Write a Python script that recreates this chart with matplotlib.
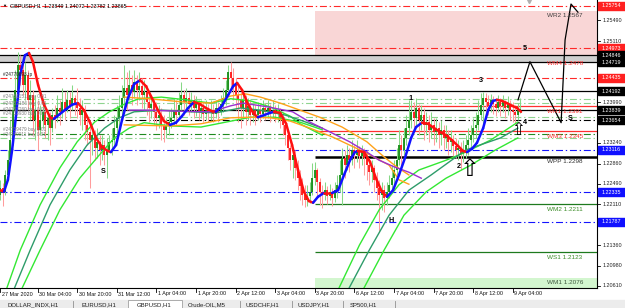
import numpy as np
import matplotlib.pyplot as plt
from matplotlib.collections import LineCollection
from matplotlib.patches import Rectangle
import matplotlib.transforms as mtransforms

plt.rcParams['font.family'] = ['Liberation Sans', 'DejaVu Sans']
plt.rcParams['lines.scale_dashes'] = False

# ---------------- data (GBPUSD H1) ----------------
first_open = 1.2228
close = [1.2241, 1.2234, 1.2265, 1.2292, 1.2329, 1.2384, 1.2421, 1.2467, 1.2458, 1.2430,
         1.2449, 1.2403, 1.2412, 1.2366, 1.2384, 1.2348, 1.2366, 1.2381, 1.2357, 1.2370,
         1.2351, 1.2375, 1.2370, 1.2388, 1.2381, 1.2399, 1.2384, 1.2403, 1.2392, 1.2406,
         1.2395, 1.2388, 1.2375, 1.2384, 1.2357, 1.2344, 1.2329, 1.2338, 1.2315, 1.2326,
         1.2311, 1.2320, 1.2302, 1.2311, 1.2326, 1.2329, 1.2351, 1.2370, 1.2388, 1.2406,
         1.2425, 1.2412, 1.2430, 1.2417, 1.2436, 1.2421, 1.2428, 1.2412, 1.2417, 1.2399,
         1.2388, 1.2395, 1.2381, 1.2370, 1.2375, 1.2357, 1.2348, 1.2355, 1.2362, 1.2370,
         1.2384, 1.2375, 1.2394, 1.2412, 1.2399, 1.2406, 1.2395, 1.2403, 1.2388, 1.2395,
         1.2381, 1.2388, 1.2377, 1.2384, 1.2381, 1.2384, 1.2377, 1.2388, 1.2381, 1.2395,
         1.2406, 1.2421, 1.2454, 1.2443, 1.2430, 1.2412, 1.2403, 1.2388, 1.2403, 1.2381,
         1.2392, 1.2375, 1.2384, 1.2375, 1.2384, 1.2377, 1.2388, 1.2381, 1.2388, 1.2381,
         1.2384, 1.2377, 1.2381, 1.2370, 1.2357, 1.2338, 1.2315, 1.2292, 1.2302, 1.2278,
         1.2259, 1.2245, 1.2228, 1.2219, 1.2226, 1.2234, 1.2259, 1.2274, 1.2252, 1.2234,
         1.2228, 1.2237, 1.2226, 1.2234, 1.2223, 1.2237, 1.2247, 1.2265, 1.2296, 1.2283,
         1.2302, 1.2292, 1.2311, 1.2302, 1.2311, 1.2300, 1.2307, 1.2296, 1.2283, 1.2270,
         1.2278, 1.2256, 1.2241, 1.2228, 1.2237, 1.2223, 1.2234, 1.2247, 1.2259, 1.2274,
         1.2292, 1.2320, 1.2311, 1.2333, 1.2351, 1.2366, 1.2381, 1.2370, 1.2388, 1.2366,
         1.2375, 1.2357, 1.2362, 1.2348, 1.2357, 1.2344, 1.2351, 1.2338, 1.2348, 1.2333,
         1.2338, 1.2326, 1.2329, 1.2318, 1.2311, 1.2315, 1.2304, 1.2311, 1.2320, 1.2329,
         1.2338, 1.2351, 1.2357, 1.2375, 1.2394, 1.2406, 1.2399, 1.2392, 1.2403, 1.2395,
         1.2388, 1.2399, 1.2392, 1.2399, 1.2388, 1.2395, 1.2384, 1.2381, 1.2375, 1.23849,
         1.23865]
high = [1.2256, 1.2250, 1.2274, 1.2311, 1.2366, 1.2412, 1.2458, 1.2491, 1.2485, 1.2476,
        1.2473, 1.2458, 1.2439, 1.2421, 1.2412, 1.2403, 1.2394, 1.2403, 1.2388, 1.2384,
        1.2381, 1.2388, 1.2394, 1.2412, 1.2403, 1.2425, 1.2417, 1.2421, 1.2417, 1.2430,
        1.2412, 1.2425, 1.2406, 1.2403, 1.2394, 1.2375, 1.2366, 1.2357, 1.2348, 1.2351,
        1.2338, 1.2338, 1.2329, 1.2333, 1.2338, 1.2351, 1.2375, 1.2394, 1.2412, 1.2430,
        1.2467, 1.2454, 1.2458, 1.2449, 1.2458, 1.2449, 1.2454, 1.2443, 1.2439, 1.2430,
        1.2417, 1.2412, 1.2406, 1.2399, 1.2394, 1.2388, 1.2375, 1.2370, 1.2384, 1.2388,
        1.2406, 1.2403, 1.2417, 1.2436, 1.2421, 1.2425, 1.2417, 1.2417, 1.2412, 1.2410,
        1.2403, 1.2403, 1.2399, 1.2403, 1.2395, 1.2403, 1.2395, 1.2403, 1.2399, 1.2412,
        1.2425, 1.2439, 1.2467, 1.2473, 1.2461, 1.2443, 1.2430, 1.2417, 1.2421, 1.2412,
        1.2406, 1.2403, 1.2399, 1.2394, 1.2399, 1.2395, 1.2403, 1.2397, 1.2403, 1.2395,
        1.2403, 1.2394, 1.2395, 1.2388, 1.2381, 1.2366, 1.2344, 1.2320, 1.2315, 1.2311,
        1.2292, 1.2274, 1.2259, 1.2247, 1.2247, 1.2252, 1.2287, 1.2289, 1.2278, 1.2259,
        1.2247, 1.2252, 1.2245, 1.2248, 1.2241, 1.2252, 1.2265, 1.2292, 1.2315, 1.2311,
        1.2320, 1.2315, 1.2329, 1.2320, 1.2329, 1.2318, 1.2320, 1.2315, 1.2311, 1.2296,
        1.2292, 1.2283, 1.2270, 1.2256, 1.2252, 1.2247, 1.2252, 1.2265, 1.2283, 1.2292,
        1.2315, 1.2348, 1.2338, 1.2351, 1.2375, 1.2403, 1.2403, 1.2399, 1.2406, 1.2395,
        1.2394, 1.2388, 1.2381, 1.2375, 1.2381, 1.2370, 1.2370, 1.2362, 1.2366, 1.2357,
        1.2357, 1.2348, 1.2348, 1.2338, 1.2333, 1.2329, 1.2326, 1.2329, 1.2338, 1.2351,
        1.2357, 1.2370, 1.2381, 1.2403, 1.2416, 1.2417, 1.2416, 1.2412, 1.2414, 1.2410,
        1.2406, 1.2412, 1.2406, 1.2412, 1.2403, 1.2410, 1.2403, 1.2399, 1.2394, 1.2397,
        1.24072]
low = [1.2219, 1.2208, 1.2228, 1.2256, 1.2283, 1.2320, 1.2375, 1.2412, 1.2430, 1.2412,
       1.2403, 1.2384, 1.2366, 1.2338, 1.2329, 1.2311, 1.2338, 1.2351, 1.2333, 1.2329,
       1.2320, 1.2344, 1.2351, 1.2362, 1.2357, 1.2370, 1.2366, 1.2381, 1.2370, 1.2384,
       1.2375, 1.2370, 1.2357, 1.2348, 1.2329, 1.2320, 1.2241, 1.2302, 1.2292, 1.2296,
       1.2283, 1.2292, 1.2283, 1.2259, 1.2307, 1.2302, 1.2315, 1.2338, 1.2351, 1.2375,
       1.2388, 1.2384, 1.2403, 1.2394, 1.2406, 1.2394, 1.2403, 1.2388, 1.2384, 1.2375,
       1.2362, 1.2370, 1.2357, 1.2348, 1.2351, 1.2329, 1.2326, 1.2333, 1.2338, 1.2351,
       1.2357, 1.2357, 1.2370, 1.2384, 1.2375, 1.2381, 1.2375, 1.2381, 1.2370, 1.2373,
       1.2366, 1.2370, 1.2362, 1.2366, 1.2362, 1.2366, 1.2362, 1.2370, 1.2362, 1.2375,
       1.2381, 1.2394, 1.2412, 1.2417, 1.2403, 1.2384, 1.2362, 1.2351, 1.2370, 1.2357,
       1.2366, 1.2357, 1.2362, 1.2357, 1.2366, 1.2362, 1.2370, 1.2366, 1.2370, 1.2362,
       1.2370, 1.2362, 1.2362, 1.2351, 1.2338, 1.2320, 1.2292, 1.2274, 1.2259, 1.2256,
       1.2237, 1.2219, 1.2210, 1.2206, 1.2208, 1.2214, 1.2228, 1.2247, 1.2228, 1.2210,
       1.2204, 1.2219, 1.2212, 1.2219, 1.2208, 1.2215, 1.2223, 1.2234, 1.2210, 1.2259,
       1.2274, 1.2270, 1.2283, 1.2278, 1.2289, 1.2278, 1.2283, 1.2265, 1.2256, 1.2247,
       1.2252, 1.2234, 1.2219, 1.2160, 1.2201, 1.2197, 1.2210, 1.2223, 1.2234, 1.2247,
       1.2265, 1.2283, 1.2283, 1.2302, 1.2320, 1.2338, 1.2351, 1.2348, 1.2357, 1.2338,
       1.2348, 1.2329, 1.2338, 1.2326, 1.2333, 1.2320, 1.2326, 1.2315, 1.2320, 1.2311,
       1.2315, 1.2302, 1.2307, 1.2300, 1.2296, 1.2292, 1.2274, 1.2289, 1.2296, 1.2302,
       1.2315, 1.2326, 1.2333, 1.2348, 1.2366, 1.2351, 1.2381, 1.2375, 1.2381, 1.2377,
       1.2373, 1.2381, 1.2373, 1.2381, 1.2370, 1.2375, 1.2366, 1.2362, 1.2359, 1.2366,
       1.23782]

# smoothed trend line (red falling / blue rising)
hma_bar = [0, 1.4, 3, 4.7, 6.3, 7.9, 9.9, 11.5, 13.1, 15.2, 17.6, 20, 21.6, 24, 26.5,
           28.9, 31.3, 33.7, 36.2, 38.6, 41, 43.4, 44.6, 46.7, 49.1, 51.5, 54, 56.4, 58.8,
           61.2, 63.6, 66, 68.5, 70.9, 73.3, 75.8, 78.2, 80.6, 83, 85.5, 87, 89.5, 92, 94,
           95.6, 97.6, 100, 102.4, 104, 106.5, 108.9, 110.5, 113, 115.4, 117.8, 120.2,
           122.6, 124.6, 126.3, 128.3, 130.7, 134, 136.4, 138.8, 141.2, 143.2, 144.4,
           146.9, 149.3, 151.7, 154.1, 156.2, 158.6, 161, 163.4, 165.9, 167.9, 170.3,
           172.7, 175.2, 177.6, 180, 182.4, 184.9, 186.9, 188.5, 190.5, 192.5, 195, 197,
           199, 200.6, 202.6, 204.6, 206.7, 208.7, 210.3]
hma = [1.2237, 1.2234, 1.2256, 1.2311, 1.2375, 1.2449, 1.2485, 1.2489, 1.2473, 1.2430,
       1.2394, 1.2371, 1.2368, 1.2377, 1.2386, 1.2394, 1.2397, 1.2384, 1.2361, 1.2333,
       1.2316, 1.2309, 1.2307, 1.2320, 1.2366, 1.2406, 1.2432, 1.2439, 1.2428, 1.2406,
       1.2384, 1.2364, 1.2357, 1.2361, 1.2373, 1.2388, 1.2399, 1.2395, 1.2388, 1.2382,
       1.2381, 1.2392, 1.2412, 1.2428, 1.2434, 1.2421, 1.2395, 1.2377, 1.2371, 1.2375,
       1.2379, 1.2381, 1.2379, 1.2359, 1.2320, 1.2274, 1.2234, 1.2217, 1.2214, 1.2225,
       1.2232, 1.2232, 1.2237, 1.2265, 1.2292, 1.2307, 1.2309, 1.2307, 1.2289, 1.2259,
       1.2234, 1.2225, 1.2237, 1.2265, 1.2296, 1.2333, 1.2353, 1.2361, 1.2359, 1.2351,
       1.2344, 1.2338, 1.2329, 1.2318, 1.2309, 1.2307, 1.2313, 1.2324, 1.2351, 1.2384,
       1.2401, 1.2403, 1.2401, 1.2397, 1.2392, 1.2388, 1.2381]

# weekly moving averages (week 1 and week 2)
limeA_bar = [2, 8, 16, 24, 31, 38, 44, 50, 56, 65, 75, 85, 93, 101, 109, 117, 121, 130]
limeA = [1.2050, 1.2127, 1.2210, 1.2278, 1.2326, 1.2362, 1.2381, 1.2395, 1.2405, 1.2408,
         1.2403, 1.2397, 1.2405, 1.2401, 1.2390, 1.2373, 1.2359, 1.2338]
seaB_bar = [5, 12, 20, 28, 35, 42, 48, 54, 65, 77, 87, 97, 105, 115, 121, 130]
seaB = [1.2050, 1.2127, 1.2210, 1.2274, 1.2320, 1.2351, 1.2370, 1.2381, 1.2384, 1.2381,
        1.2379, 1.2388, 1.2384, 1.2375, 1.2366, 1.2351]
limeC_bar = [8, 16, 24, 32, 40, 46, 52, 58, 69, 81, 91, 101, 111, 121, 130]
limeC = [1.2050, 1.2127, 1.2201, 1.2259, 1.2302, 1.2333, 1.2351, 1.2361, 1.2355, 1.2353,
         1.2362, 1.2371, 1.2371, 1.2362, 1.2348]
limeA2_bar = [136, 145, 153, 161, 169, 180, 188, 198, 209]
limeA2 = [1.2050, 1.2136, 1.2201, 1.2247, 1.2274, 1.2292, 1.2307, 1.2329, 1.2362]
seaB2_bar = [140, 149, 157, 165, 174, 188, 202, 209]
seaB2 = [1.2050, 1.2127, 1.2191, 1.2237, 1.2265, 1.2311, 1.2333, 1.2351]
limeC2_bar = [146, 155, 163, 172, 180, 190, 200, 209]
limeC2 = [1.2050, 1.2127, 1.2191, 1.2234, 1.2259, 1.2283, 1.2311, 1.2333]

purple_bar = [52, 60, 73, 85, 93, 98, 108, 118, 125, 134, 141, 148, 153, 159, 165, 170]
purple = [1.2384, 1.2384, 1.2382, 1.2381, 1.2392, 1.2397, 1.2390, 1.2381, 1.2362, 1.2342,
          1.2326, 1.2307, 1.2292, 1.2280, 1.2270, 1.2259]
orange1_bar = [50, 60, 74, 85, 93, 99, 105, 113, 121, 129, 138, 148, 155, 160, 165]
orange1 = [1.2408, 1.2405, 1.2399, 1.2397, 1.2410, 1.2414, 1.2408, 1.2397, 1.2384, 1.2371,
           1.2353, 1.2326, 1.2298, 1.2280, 1.2265]
orange2_bar = [50, 69, 81, 93, 101, 109, 117, 125, 134, 141, 148, 157, 161, 165]
orange2 = [1.2357, 1.2355, 1.2359, 1.2370, 1.2371, 1.2370, 1.2364, 1.2351, 1.2335, 1.2320,
           1.2305, 1.2283, 1.2256, 1.2248]

# hand drawn wave sketch
wave_bar = [209.1, 213.9, 226.5, 228.1, 230.5, 233.3]
wave = [1.2403, 1.2473, 1.2361, 1.2513, 1.2579, 1.2564]

# levels
red_dd = [1.25754, 1.24973, 1.24435]
black_solid = [1.24846, 1.24719, 1.24192, 1.23839]
black_dd = [1.23654]
blue_dd = [1.23116, 1.22335, 1.21787]
order_lines = [1.2404, 1.2397, 1.2371, 1.2340, 1.2332]
order_dark = [False, False, False, True, False]
order_texts = ["#24770898 tp", "#24751151 buy 0.01", "#24752186 buy 0.01",
               "#24753260 buy 0.01", "#24733930 buy 0.01", "#24739479 buy 0.01",
               "#24749011 buy 0.01"]
order_text_prices = [1.2449, 1.2410, 1.2396, 1.2386, 1.2377, 1.2349, 1.2340]

pivot_names = ["WR2", "WM4", "WR1", "WM3", "WPP", "WM2", "WS1", "WM1"]
pivot_vals = [1.2567, 1.2478, 1.2391, 1.2345, 1.2298, 1.2211, 1.2123, 1.2076]
pivot_colors = ["#404040", "#ff3030", "#ff3030", "#ff3030", "#303030", "#3c8c28", "#3c8c28", "#405a40"]
pivot_start = 127

box_prices = [1.25754, 1.24973, 1.24846, 1.24719, 1.24435, 1.24192, 1.23839, 1.23654,
              1.23116, 1.22335, 1.21787]
box_colors = ["#ff2020", "#ff2020", "black", "black", "#ff2020", "black", "black", "black",
              "#1010ff", "#1010ff", "#1010ff"]
tick_prices = [1.25490, 1.25110, 1.23990, 1.23240, 1.22860, 1.22490, 1.22110, 1.21360,
               1.20980, 1.20610]

xtick_bars = [0, 15, 31, 47, 63, 79, 95, 111, 127, 143, 159, 175, 191, 207]
xtick_labels = ["27 Mar 2020", "30 Mar 04:00", "30 Mar 20:00", "31 Mar 12:00", "1 Apr 04:00",
                "1 Apr 20:00", "2 Apr 12:00", "3 Apr 04:00", "3 Apr 20:00", "6 Apr 12:00",
                "7 Apr 04:00", "7 Apr 20:00", "8 Apr 12:00", "9 Apr 04:00"]

marks = ["1", "2", "3", "4", "5", "S", "S", "H"]
mark_bar = [165.5, 185, 194, 212, 212, 230, 41.5, 158]
mark_price = [1.2405, 1.2280, 1.2439, 1.2361, 1.2497, 1.2368, 1.2272, 1.2182]
arrow_bar = [189.7, 209]
arrow_price = [1.2276, 1.2348]
arrow_size = [17, 12]

tabs = ["DOLLAR_INDX,H1", "EURUSD,H1", "GBPUSD,H1", "Crude-OIL,M5", "USDCHF,H1",
        "USDJPY,H1", "SP500,H1"]

# ---------------- figure ----------------
W, H = 625, 308
fig = plt.figure(figsize=(W / 100, H / 100), dpi=100)
ax = fig.add_axes([0, 20 / H, 597 / W, 288 / H])
ax.set_xlim(-0.2, 241.0)
ax.set_ylim(1.20573, 1.25864)
ax.set_xticks([])
ax.set_yticks([])
for s in ax.spines.values():
    s.set_linewidth(0.8)
ax.spines['top'].set_visible(False)
ax.spines['left'].set_visible(False)

DD = (0, (5, 2, 1, 2))
right = 241.0

# zones
ax.fill_between([pivot_start, right], pivot_vals[0], 1.2485, color='#f9d6d6', lw=0, zorder=0)
ax.fill_between([pivot_start, right], 1.20573, pivot_vals[7], color='#d3f6cf', lw=0, zorder=0)
ax.axhspan(black_solid[1], black_solid[0], color='#cfcfcf', lw=0, zorder=0.5)

for p in red_dd:
    ax.axhline(p, color='#ff2a2a', lw=0.8, ls=DD, zorder=1)
for p in black_solid:
    ax.axhline(p, color='black', lw=0.9, zorder=1)
for p in black_dd:
    ax.axhline(p, color='black', lw=0.8, ls=DD, zorder=1)
for p in blue_dd:
    ax.axhline(p, color='#1414ff', lw=0.8, ls=DD, zorder=1)
for p, dk in zip(order_lines, order_dark):
    ax.axhline(p, color='#1f8a1f' if dk else '#8fd48f', lw=0.8, ls=DD, zorder=1)

# weekly pivots
ax.hlines(pivot_vals[2:4], pivot_start, right, color='#ff3030', lw=0.9, zorder=1)
ax.hlines(pivot_vals[4], pivot_start, right, color='black', lw=1.8, zorder=1)
ax.hlines(pivot_vals[5:7], pivot_start, right, color='#1e7a1e', lw=0.9, zorder=1)

# candles
c = np.array(close)
o = np.array([first_open] + close[:-1])
hi = np.maximum(np.array(high), np.maximum(o, c))
lo = np.minimum(np.array(low), np.minimum(o, c))
x = np.arange(len(c))
up = c >= o
ax.vlines(x[up], lo[up], hi[up], color='#86d886', lw=0.75, zorder=2)
ax.vlines(x[~up], lo[~up], hi[~up], color='#ff9c9c', lw=0.75, zorder=2)
ax.vlines(x[up], o[up], c[up], color='#148c14', lw=1.3, zorder=2.1)
ax.vlines(x[~up], o[~up], c[~up], color='#ff1414', lw=1.3, zorder=2.1)

# moving averages
for bx, by, col in [(limeA_bar, limeA, '#33e833'), (seaB_bar, seaB, '#2e9c6a'),
                    (limeC_bar, limeC, '#33e833'), (limeA2_bar, limeA2, '#33e833'),
                    (seaB2_bar, seaB2, '#2e9c6a'), (limeC2_bar, limeC2, '#33e833'),
                    (orange1_bar, orange1, '#ffa21a'), (orange2_bar, orange2, '#ffa21a'),
                    (purple_bar, purple, '#9b30d0')]:
    ax.plot(bx, by, color=col, lw=1.0, zorder=3)

# red / blue trend line
pts = np.column_stack([hma_bar, hma])
segs = np.stack([pts[:-1], pts[1:]], axis=1)
cols = ['#1010ff' if b > a else '#ff1010' for a, b in zip(hma[:-1], hma[1:])]
ax.add_collection(LineCollection(segs, colors=cols, linewidths=1.8, zorder=4,
                                 capstyle='round', joinstyle='round'))

# drawings
ax.plot(wave_bar, wave, color='black', lw=0.9, zorder=5)
for t, bx, by in zip(marks, mark_bar, mark_price):
    ax.text(bx, by, t, fontsize=5.2, fontweight='bold', ha='center', va='center', zorder=6)
for bx, by, sz in zip(arrow_bar, arrow_price, arrow_size):
    ax.text(bx, by, "\u21e7", fontsize=sz, family='DejaVu Sans', ha='center', va='center',
            zorder=6, color='black')

# pivot labels
for name, v, col in zip(pivot_names, pivot_vals, pivot_colors):
    ax.text(220.8, v - 0.0009, f"{name} {v:.4f}", fontsize=4.6, color=col,
            va='center', ha='left', zorder=6)

# order texts on the left
for t, p in zip(order_texts, order_text_prices):
    ax.text(1, p, t, fontsize=3.4, color='#222222' if t.endswith('tp') else '#808080',
            va='center', ha='left', zorder=6)

# price axis
tr = mtransforms.blended_transform_factory(ax.transAxes, ax.transData)
for p in tick_prices:
    ax.text(1 + 6 / 597, p, f"{p:.5f}", transform=tr, fontsize=3.9, color='#222222',
            va='center', ha='left', clip_on=False)
    ax.plot([1, 1 + 3 / 597], [p, p], transform=tr, color='black', lw=0.6, clip_on=False)
box_h = 8 * 0.0001837
for p, col in zip(box_prices, box_colors):
    ax.add_patch(Rectangle((1 + 1 / 597, p - box_h / 2), 27 / 597, box_h, transform=tr,
                           color=col, clip_on=False, zorder=7))
    ax.text(1 + 5 / 597, p, f"{p:.5f}", transform=tr, fontsize=3.9, color='white',
            va='center', ha='left', clip_on=False, zorder=8)

# time axis
trx = mtransforms.blended_transform_factory(ax.transData, ax.transAxes)
for b, lab in zip(xtick_bars, xtick_labels):
    ax.plot([b, b], [0, -4 / 288], transform=trx, color='black', lw=0.6, clip_on=False)
    ax.text(b + 0.6, -6 / 288, lab, transform=trx, fontsize=3.9, va='center', ha='left',
            color='#111111', clip_on=False)

# header
fig.text(4 / W, 1 - 5.5 / H, "\u25bc", fontsize=3, va='center', ha='center')
fig.text(10 / W, 1 - 5.5 / H, "GBPUSD,H1  1.23849 1.24072 1.23782 1.23865", fontsize=3.9,
         va='center', ha='left')
ax.plot([213.5], [1.25840], marker='v', ms=3, color='#b0b0b0', zorder=6, clip_on=False)

# tab bar
fig.patches.append(Rectangle((0, 0), 1, 8 / H, transform=fig.transFigure,
                             color='#ececec', zorder=0))
fig.patches.append(Rectangle((128 / W, 0), 54 / W, 8 / H, transform=fig.transFigure,
                             fc='white', ec='#a0a0a0', lw=0.6, zorder=1))
tab_x = [7, 82, 137, 188, 245, 298, 350]
sep_x = [73, 240, 292, 343, 395]
for t, tx in zip(tabs, tab_x):
    fig.text(tx / W, 3 / H, t, fontsize=4.3, va='center', ha='left', color='#202020')
for sx in sep_x:
    fig.lines.append(plt.Line2D([sx / W, sx / W], [0, 7 / H], transform=fig.transFigure,
                                color='#909090', lw=0.6))

fig.savefig('out.png', dpi=100)
